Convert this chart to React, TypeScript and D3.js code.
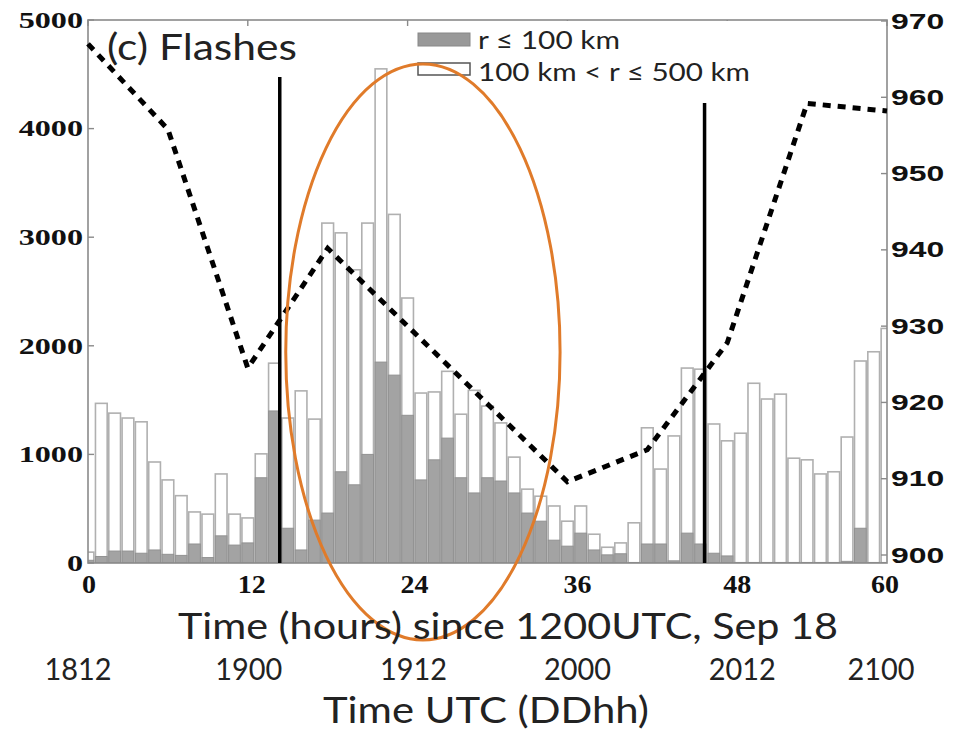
import React from "react";
import * as d3 from "d3";

// ---- data ----
const hours = d3.range(0, 61);
// flashes r <= 100 km (grey)
const innerFlashes = [25, 60, 110, 110, 90, 120, 80, 70, 175, 50, 250, 165, 185, 785, 1400, 320, 120, 395, 460, 840, 720, 1000, 1850, 1730, 1360, 765, 950, 1150, 785, 645, 785, 755, 645, 460, 385, 210, 155, 275, 120, 75, 85, 5, 175, 175, 20, 275, 175, 90, 65, 5, 5, 5, 5, 5, 5, 5, 5, 15, 320, 5, 5];
// flashes 100 km < r <= 500 km (white, stacked above grey)
const outerFlashes = [75, 1410, 1270, 1225, 1210, 810, 685, 550, 295, 400, 570, 285, 230, 220, 440, 1015, 1465, 930, 2670, 2200, 1980, 2130, 2700, 1480, 1080, 800, 625, 615, 585, 945, 660, 535, 330, 220, 230, 315, 230, 250, 145, 70, 100, 365, 1070, 690, 1150, 1520, 1610, 1190, 1060, 1190, 1650, 1505, 1550, 960, 945, 815, 835, 1145, 1540, 1940, 2155];
// central pressure (hPa, right axis)
const pressureHours = [0, 6, 12, 18, 24, 30, 36, 42, 48, 54, 60];
const pressureValues = [967, 955.8, 924.5, 940.2, 930, 919.8, 909.6, 913.8, 927.8, 959.2, 958.2];
// vertical markers (hour, top in flash units)
const markerHours = [14.4, 46.3];
const markerTops = [4475, 4236];

const leftTicks = [0, 1000, 2000, 3000, 4000, 5000];
const rightTicks = [900, 910, 920, 930, 940, 950, 960, 970];
const hourTicks = [0, 12, 24, 36, 48, 60];
const hourTickLabels = ["0", "12", "24", "36", "48", "60"];
const utcTickLabels = ["1812", "1900", "1912", "2000", "2012", "2100"];

const legendLabels = ["r \u2264 100 km", "100 km < r \u2264 500 km"];
const panelTitle = "(c) Flashes";
const xTitle = "Time (hours) since 1200UTC, Sep 18";
const xTitle2 = "Time UTC (DDhh)";

// annotation ellipse in data units (hour, flashes)
const ellipseCenter = [25.15, 1943];
const ellipseRadii = [10.3, 2652];

export default function App() {
  const W = 961, H = 730;
  const left = 88, right = 887, top = 20, bottom = 563;
  const x = d3.scaleLinear().domain([0, 60]).range([left, right]);
  const yL = d3.scaleLinear().domain([0, 5000]).range([bottom, top]);
  const yR = d3.scaleLinear().domain([900, 970]).range([555, 21]);
  const step = x(1) - x(0);
  const bw = step * 0.88;

  const line = d3
    .line<number>()
    .x((_, i) => x(pressureHours[i]))
    .y((d) => yR(d));

  const calibri = "Lato, 'Open Sans', sans-serif";
  const tickOffsets = [1, 4, 7, 10, 10, -2];
  const utcOffsets = [-10, 1, 6, 10, 15, -6];
  const fit = "spacingAndGlyphs";

  return (
    <div style={{ position: "fixed", left: 0, top: 0, width: W, height: H, background: "#fff" }}>
      <svg width={W} height={H} style={{ display: "block" }}>
        <defs>
          <clipPath id="plot">
            <rect x={left} y={top} width={right - left} height={bottom - top} />
          </clipPath>
        </defs>
        <rect x={0} y={0} width={W} height={H} fill="#fff" />

        {/* bars */}
        <g clipPath="url(#plot)">
          {hours.map((h, i) => {
            const total = innerFlashes[i] + outerFlashes[i];
            return (
              <g key={h}>
                <rect
                  x={x(h) - bw / 2}
                  y={yL(total)}
                  width={bw}
                  height={yL(0) - yL(total)}
                  fill="#fff"
                  stroke="#b0b0b0"
                  strokeWidth={1.6}
                />
                <rect
                  x={x(h) - bw / 2}
                  y={yL(innerFlashes[i])}
                  width={bw}
                  height={yL(0) - yL(innerFlashes[i])}
                  fill="#a3a3a3"
                  stroke="#929292"
                  strokeWidth={1}
                />
              </g>
            );
          })}
        </g>

        {/* frame */}
        <rect x={left} y={top} width={right - left} height={bottom - top} fill="none" stroke="#8a8a8a" strokeWidth={1.6} />
        {leftTicks.map((v) => (
          <line key={"lt" + v} x1={left} x2={left + 6} y1={yL(v)} y2={yL(v)} stroke="#8a8a8a" strokeWidth={1.4} />
        ))}
        {rightTicks.map((v) => (
          <line key={"rt" + v} x1={right} x2={right - 6} y1={yR(v)} y2={yR(v)} stroke="#8a8a8a" strokeWidth={1.4} />
        ))}
        {hourTicks.map((v) => (
          <line key={"tt" + v} x1={x(v)} x2={x(v)} y1={top} y2={top + 6} stroke="#8a8a8a" strokeWidth={1.4} />
        ))}

        {/* legend */}
        <rect x={412} y={top + 1} width={350} height={64} fill="#fff" />
        <rect x={418} y={33} width={52} height={13} fill="#999" stroke="#888" strokeWidth={1} />
        <rect x={418} y={63} width={52} height={12} fill="#fff" stroke="#555" strokeWidth={1.5} />
        <text x={478} y={39} dominantBaseline="central" fontFamily={calibri} fontSize={25} fill="#222" textLength={142} lengthAdjust={fit}>
          {legendLabels[0]}
        </text>
        <text x={478} y={71} dominantBaseline="central" fontFamily={calibri} fontSize={25} fill="#222" textLength={272} lengthAdjust={fit}>
          {legendLabels[1]}
        </text>
        <text x={107} y={46} dominantBaseline="central" fontFamily={calibri} fontSize={36} fill="#222" textLength={190} lengthAdjust={fit}>
          {panelTitle}
        </text>

        {/* pressure line */}
        <path d={line(pressureValues) || ""} fill="none" stroke="#000" strokeWidth={5} strokeDasharray="8,7" />

        {/* vertical markers */}
        {markerHours.map((h, i) => (
          <line key={"m" + i} x1={x(h)} x2={x(h)} y1={yL(markerTops[i])} y2={bottom} stroke="#000" strokeWidth={3.5} />
        ))}

        {/* annotation ellipse */}
        <ellipse
          cx={x(ellipseCenter[0])}
          cy={yL(ellipseCenter[1])}
          rx={x(ellipseRadii[0]) - x(0)}
          ry={yL(0) - yL(ellipseRadii[1])}
          fill="none"
          stroke="#e07b2a"
          strokeWidth={3}
        />

        {/* left axis labels */}
        {leftTicks.map((v) => (
          <text
            key={"ll" + v}
            transform={`translate(83,${yL(v)}) scale(1.4,1)`}
            textAnchor="end"
            dominantBaseline="central"
            fontFamily="'Liberation Serif', serif"
            fontWeight="bold"
            fontSize={23}
            fill="#111"
          >
            {v}
          </text>
        ))}
        {/* right axis labels */}
        {rightTicks.map((v) => (
          <text
            key={"rl" + v}
            transform={`translate(891,${yR(v)}) scale(1.45,1)`}
            textAnchor="start"
            dominantBaseline="central"
            fontFamily="'Liberation Sans', Arial, sans-serif"
            fontWeight="bold"
            fontSize={22}
            fill="#111"
          >
            {v}
          </text>
        ))}
        {/* bottom hour labels */}
        {hourTicks.map((v, i) => (
          <text
            key={"bl" + v}
            transform={`translate(${x(v) + tickOffsets[i]},585) scale(1.12,1)`}
            textAnchor="middle"
            dominantBaseline="central"
            fontFamily="'Liberation Serif', serif"
            fontWeight="bold"
            fontSize={25}
            fill="#111"
          >
            {hourTickLabels[i]}
          </text>
        ))}
        <text x={178} y={625} dominantBaseline="central" fontFamily={calibri} fontSize={36} fill="#222" textLength={660} lengthAdjust={fit}>
          {xTitle}
        </text>
        {hourTicks.map((v, i) => (
          <text
            key={"ul" + v}
            x={x(v) + utcOffsets[i]}
            y={668}
            textAnchor="middle"
            dominantBaseline="central"
            fontFamily={calibri}
            fontSize={30}
            fill="#222"
            textLength={67}
            lengthAdjust={fit}
          >
            {utcTickLabels[i]}
          </text>
        ))}
        <text x={323} y={709} dominantBaseline="central" fontFamily={calibri} fontSize={36} fill="#222" textLength={326} lengthAdjust={fit}>
          {xTitle2}
        </text>
      </svg>
    </div>
  );
}
